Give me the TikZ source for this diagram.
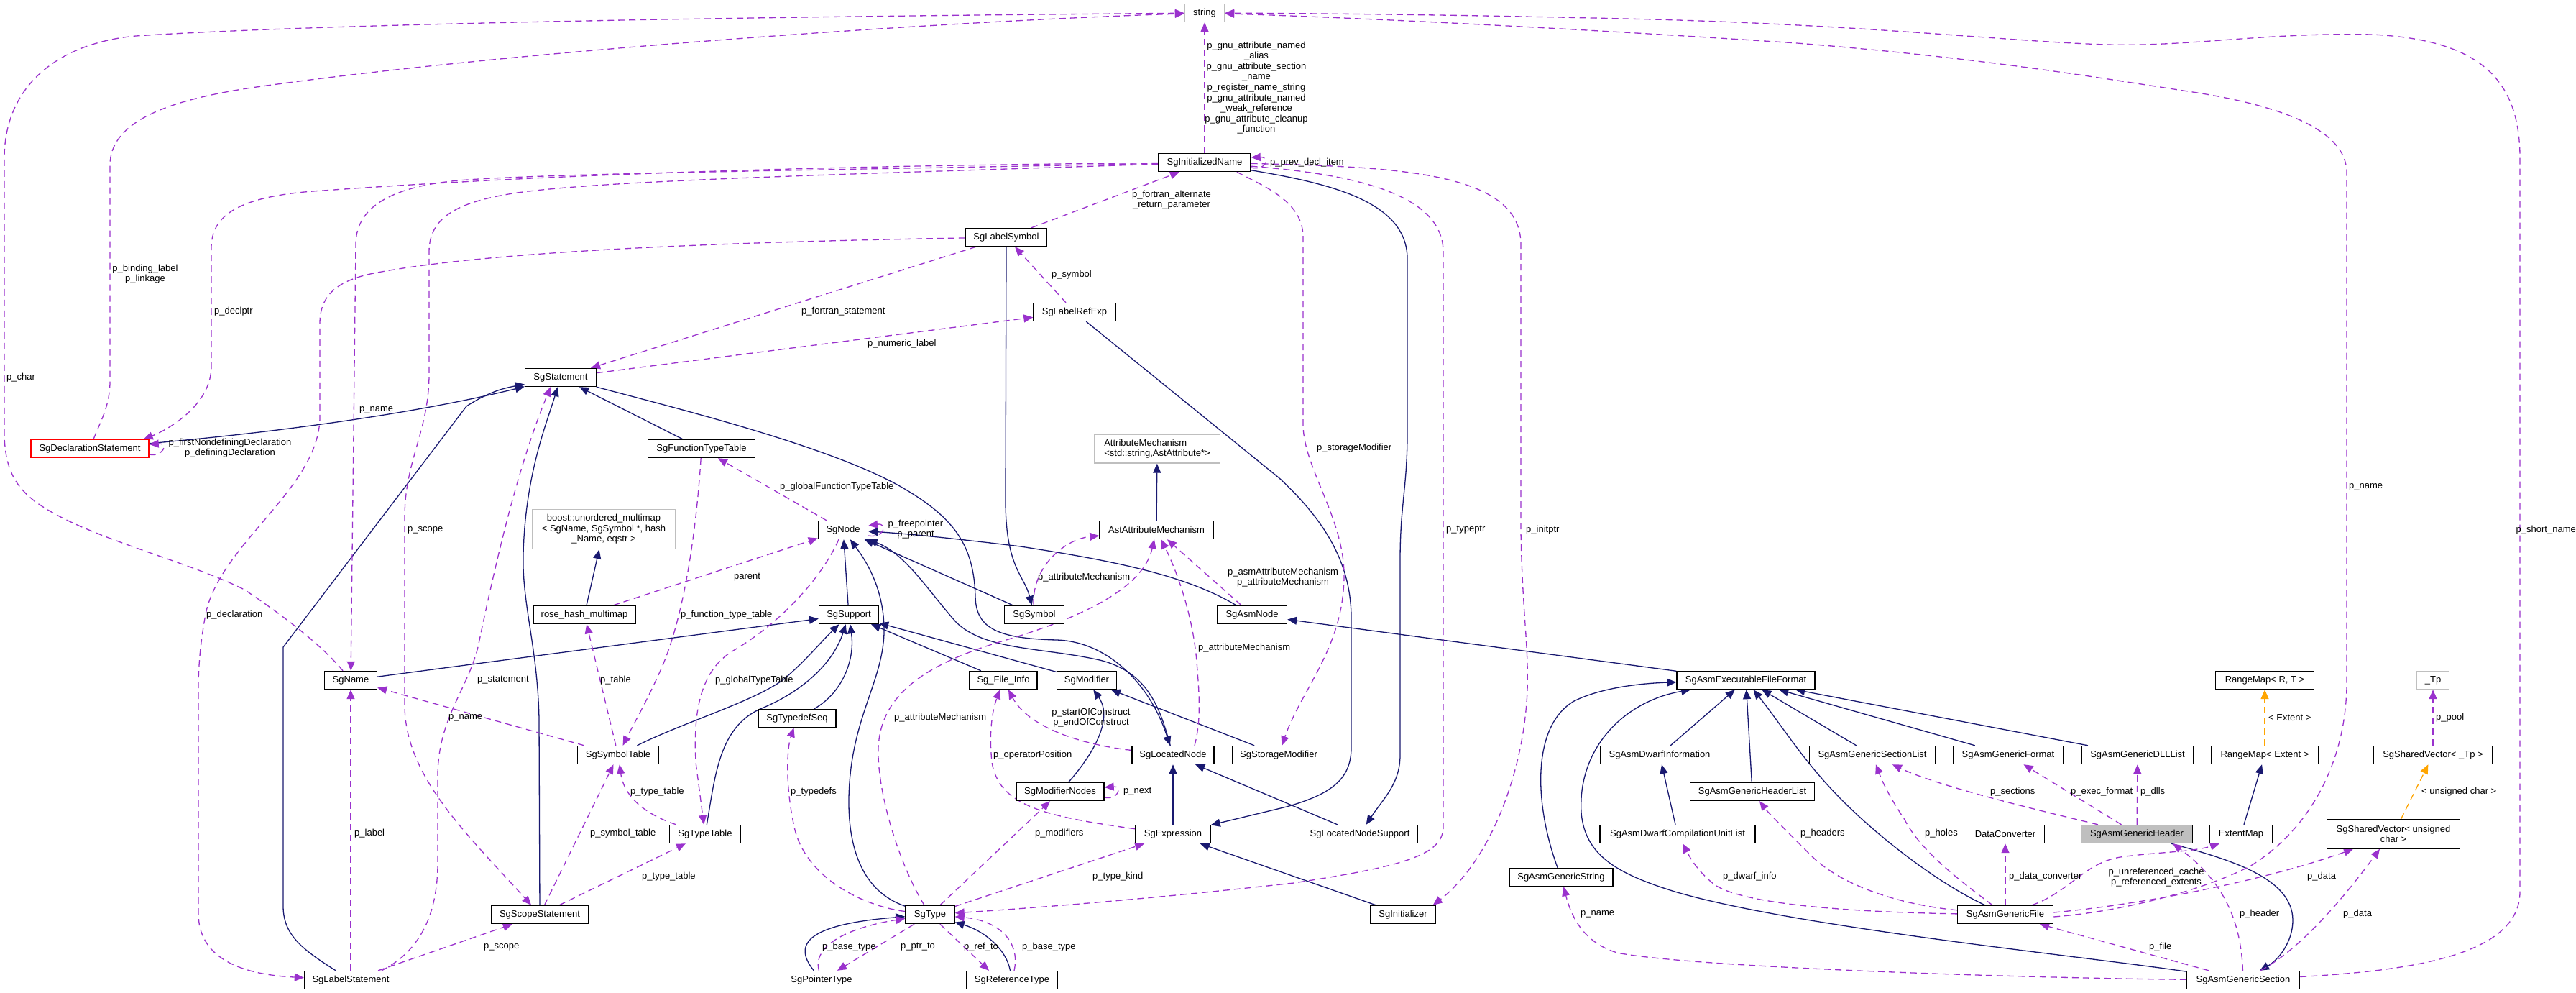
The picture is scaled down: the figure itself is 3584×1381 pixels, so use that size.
\documentclass[tikz,border=0pt]{standalone}
\usepackage{fontspec}
\setmainfont{Liberation Sans}
\usetikzlibrary{arrows.meta}
\pgfdeclarelayer{bg}
\pgfsetlayers{bg,main}
\definecolor{inhcol}{HTML}{191970}
\definecolor{usecol}{HTML}{9A32CD}
\definecolor{tplcol}{HTML}{FFA500}
\definecolor{extcol}{HTML}{BFBFBF}
\newcommand\dxfont{\fontsize{13}{14.6}\selectfont}
\begin{document}
\begin{tikzpicture}[x=1pt,y=-1pt,
 cls/.style={draw=black,line width=1.4pt,fill=white,inner sep=0pt,minimum height=25pt,font=\dxfont,align=center},
 extcls/.style={cls,draw=extcol},
 rootcls/.style={cls,fill=extcol},
 trunccls/.style={cls,draw=red},
 lbl/.style={font=\dxfont,inner sep=0pt,align=center},
 lblw/.style={lbl,anchor=west},
 edgeinh/.style={draw=inhcol,line width=1.3pt,-{Triangle[length=13pt,width=11pt]}},
 edgeuse/.style={draw=usecol,line width=1.3pt,dash pattern=on 9pt off 6pt,-{Triangle[length=13pt,width=11pt]}},
 edgetpl/.style={draw=tplcol,line width=1.3pt,dash pattern=on 9pt off 6pt,-{Triangle[length=13pt,width=11pt]}},
]
\useasboundingbox (0,0) rectangle (3584,1381);
% ---------------- nodes
\node[extcls,minimum width=55pt] (str) at (1676,18) {string};
\node[cls,minimum width=128pt] (InitName) at (1676,226) {SgInitializedName};
\node[cls,minimum width=113pt] (LabelSym) at (1400,330) {SgLabelSymbol};
\node[cls,minimum width=114pt] (LabelRefExp) at (1495,434) {SgLabelRefExp};
\node[cls,minimum width=99pt] (Stmt) at (780,525) {SgStatement};
\node[trunccls,minimum width=164pt] (Decl) at (125,624) {SgDeclarationStatement};
\node[cls,minimum width=149pt] (FuncTT) at (976,624) {SgFunctionTypeTable};
\node[extcls,minimum width=175pt,minimum height=40pt,align=left] (AttrMech) at (1610,624) {AttributeMechanism\\<std::string,AstAttribute*>};
\node[extcls,minimum width=199pt,minimum height=55pt] (boost) at (840,736) {boost::unordered\_multimap\\< SgName, SgSymbol *, hash\\ \_Name, eqstr >};
\node[cls,minimum width=69pt] (SgNode) at (1173,737) {SgNode};
\node[cls,minimum width=158pt] (AstAttr) at (1609,737) {AstAttributeMechanism};
\node[cls,minimum width=142pt] (rose) at (813,855) {rose\_hash\_multimap};
\node[cls,minimum width=83pt] (Support) at (1181,855) {SgSupport};
\node[cls,minimum width=83pt] (Symbol) at (1439,855) {SgSymbol};
\node[cls,minimum width=97pt] (AsmNode) at (1742,855) {SgAsmNode};
\node[cls,minimum width=73pt] (SgName) at (488,946) {SgName};
\node[cls,minimum width=94pt] (FileInfo) at (1396,946) {Sg\_File\_Info};
\node[cls,minimum width=83pt] (Modifier) at (1512,946) {SgModifier};
\node[cls,minimum width=192pt] (AEFF) at (2429,946) {SgAsmExecutableFileFormat};
\node[cls,minimum width=137pt] (RMRT) at (3151,946) {RangeMap< R, T >};
\node[extcls,minimum width=45pt] (Tp) at (3385,946) {\_Tp};
\node[cls,minimum width=108pt] (TypedefSeq) at (1109,999) {SgTypedefSeq};
\node[cls,minimum width=113pt] (SymTab) at (860,1050) {SgSymbolTable};
\node[cls,minimum width=114pt] (LocNode) at (1632,1050) {SgLocatedNode};
\node[cls,minimum width=129pt] (StorMod) at (1779,1050) {SgStorageModifier};
\node[cls,minimum width=165pt] (DwarfInfo) at (2309,1050) {SgAsmDwarfInformation};
\node[cls,minimum width=175pt] (SecList) at (2605,1050) {SgAsmGenericSectionList};
\node[cls,minimum width=153pt] (GFormat) at (2794,1050) {SgAsmGenericFormat};
\node[cls,minimum width=156pt] (DLLList) at (2974,1050) {SgAsmGenericDLLList};
\node[cls,minimum width=149pt] (RMExt) at (3151,1050) {RangeMap< Extent >};
\node[cls,minimum width=165pt] (SVTp) at (3385,1050) {SgSharedVector< \_Tp >};
\node[cls,minimum width=122pt] (ModNodes) at (1475,1101) {SgModifierNodes};
\node[cls,minimum width=173pt] (HdrList) at (2438,1101) {SgAsmGenericHeaderList};
\node[cls,minimum width=99pt] (TypeTab) at (981,1160) {SgTypeTable};
\node[cls,minimum width=104pt] (Expr) at (1632,1160) {SgExpression};
\node[cls,minimum width=161pt] (LNSup) at (1892,1160) {SgLocatedNodeSupport};
\node[cls,minimum width=216pt] (DwarfCUL) at (2334,1160) {SgAsmDwarfCompilationUnitList};
\node[cls,minimum width=109pt] (DataConv) at (2790,1160) {DataConverter};
\node[rootcls,minimum width=155pt] (GHdr) at (2973,1160) {SgAsmGenericHeader};
\node[cls,minimum width=88pt] (ExtMap) at (3118,1160) {ExtentMap};
\node[cls,minimum width=185pt,minimum height=40pt] (SVUC) at (3330,1160) {SgSharedVector< unsigned\\char >};
\node[cls,minimum width=144pt] (GStr) at (2172,1220) {SgAsmGenericString};
\node[cls,minimum width=135pt] (Scope) at (751,1272) {SgScopeStatement};
\node[cls,minimum width=68pt] (SgType) at (1294,1272) {SgType};
\node[cls,minimum width=90pt] (Init) at (1952,1272) {SgInitializer};
\node[cls,minimum width=133pt] (GFile) at (2790,1272) {SgAsmGenericFile};
\node[cls,minimum width=129pt] (LabelStmt) at (488,1363) {SgLabelStatement};
\node[cls,minimum width=107pt] (PtrType) at (1143,1363) {SgPointerType};
\node[cls,minimum width=126pt] (RefType) at (1408,1363) {SgReferenceType};
\node[cls,minimum width=157pt] (GSec) at (3121,1363) {SgAsmGenericSection};
% ---------------- edges
\begin{pgfonlayer}{bg}
\fill[white] (0,0) rectangle (3584,1381);
% inheritance
\draw[edgeinh] (Decl) .. controls (420,598) and (600,570) .. (Stmt);
\draw[edgeinh] (LabelStmt) .. controls (420,1320) and (394,1300) .. (394,1260) -- (394,900) -- (649,565) .. controls (680,545) and (700,540) .. (Stmt);
\draw[edgeinh] (Scope) -- (750,1000) .. controls (748,900) and (726,840) .. (728,770) .. controls (731,660) and (760,590) .. (Stmt);
\draw[edgeinh] (FuncTT) -- (Stmt);
\draw[edgeinh] (Stmt) .. controls (950,570) and (1150,620) .. (1250,675) .. controls (1330,720) and (1355,760) .. (1357,830) .. controls (1358,875) and (1390,888) .. (1470,890) .. controls (1540,892) and (1600,950) .. (LocNode);
\draw[edgeinh] (LocNode) .. controls (1615,990) and (1600,935) .. (1530,918) .. controls (1450,900) and (1370,905) .. (1330,865) .. controls (1290,820) and (1260,770) .. (SgNode);
\draw[edgeinh] (Support) -- (SgNode);
\draw[edgeinh] (SgType) .. controls (1200,1240) and (1180,1180) .. (1181,1110) .. controls (1183,1000) and (1228,950) .. (1230,880) .. controls (1231,820) and (1205,780) .. (SgNode);
\draw[edgeinh] (Symbol) -- (SgNode);
\draw[edgeinh] (AsmNode) .. controls (1650,800) and (1550,780) .. (1420,760) .. controls (1320,748) and (1260,742) .. (SgNode);
\draw[edgeinh] (FileInfo) -- (Support);
\draw[edgeinh] (Modifier) -- (Support);
\draw[edgeinh] (SgName) -- (Support);
\draw[edgeinh] (SymTab) .. controls (950,1005) and (1050,975) .. (1090,945) .. controls (1120,920) and (1140,895) .. (Support);
\draw[edgeinh] (TypeTab) .. controls (995,1080) and (1000,1010) .. (1060,985) .. controls (1120,960) and (1160,920) .. (Support);
\draw[edgeinh] (TypedefSeq) .. controls (1170,965) and (1190,920) .. (Support);
\draw[edgeinh] (LabelSym) -- (1399,700) .. controls (1400,790) and (1425,800) .. (Symbol);
\draw[edgeinh] (LabelRefExp) -- (1780,665) .. controls (1850,730) and (1880,790) .. (1880,860) -- (1880,1040) .. controls (1880,1085) and (1850,1105) .. (1790,1122) -- (Expr);
\draw[edgeinh] (InitName) .. controls (1850,255) and (1958,280) .. (1958,360) -- (1958,600) .. controls (1958,680) and (1948,700) .. (1948,780) -- (1948,1050) .. controls (1948,1090) and (1925,1110) .. (LNSup);
\draw[edgeinh] (Init) -- (Expr);
\draw[edgeinh] (Expr) -- (LocNode);
\draw[edgeinh] (LNSup) -- (LocNode);
\draw[edgeinh] (ModNodes) .. controls (1520,1050) and (1550,1000) .. (Modifier);
\draw[edgeinh] (StorMod) -- (Modifier);
\draw[edgeinh] (AEFF) -- (AsmNode);
\draw[edgeinh] (AstAttr) -- (AttrMech);
\draw[edgeinh] (rose) -- (boost);
\draw[edgeinh] (PtrType) .. controls (1100,1310) and (1130,1285) .. (SgType);
\draw[edgeinh] (RefType) .. controls (1400,1320) and (1370,1295) .. (SgType);
\draw[edgeinh] (GStr) .. controls (2135,1120) and (2130,1010) .. (2190,975) .. controls (2230,955) and (2290,950) .. (AEFF);
\draw[edgeinh] (GSec) .. controls (2900,1330) and (2500,1290) .. (2330,1240) .. controls (2250,1215) and (2205,1190) .. (2200,1130) .. controls (2195,1040) and (2260,975) .. (AEFF);
\draw[edgeinh] (DwarfInfo) -- (AEFF);
\draw[edgeinh] (HdrList) -- (AEFF);
\draw[edgeinh] (GFile) .. controls (2700,1230) and (2620,1170) .. (2563,1113) .. controls (2510,1060) and (2480,1010) .. (AEFF);
\draw[edgeinh] (SecList) -- (AEFF);
\draw[edgeinh] (GFormat) -- (AEFF);
\draw[edgeinh] (DLLList) -- (AEFF);
\draw[edgeinh] (DwarfCUL) -- (DwarfInfo);
\draw[edgeinh] (ExtMap) -- (RMExt);
\draw[edgeinh] (GHdr) .. controls (3100,1195) and (3190,1220) .. (3190,1280) .. controls (3190,1310) and (3170,1335) .. (GSec);
% template
\draw[edgetpl] (RMExt) -- (RMRT);
\draw[edgetpl] (SVUC) -- (SVTp);
% usage
\draw[edgeuse] (InitName) -- (str);
\draw[edgeuse] (SgName) .. controls (450,900) and (400,860) .. (340,820) .. controls (260,780) and (130,750) .. (60,705) .. controls (20,680) and (6,650) .. (6,600) -- (6,220) .. controls (6,120) and (80,60) .. (189,50) .. controls (500,30) and (1200,22) .. (str);
\draw[edgeuse] (Decl) .. controls (140,585) and (153,565) .. (153,530) -- (153,230) .. controls (153,170) and (230,140) .. (350,122) .. controls (700,72) and (1300,30) .. (str);
\draw[edgeuse] (InitName) .. controls (1200,230) and (800,240) .. (450,265) .. controls (330,272) and (294,300) .. (294,345) -- (294,510) .. controls (294,560) and (240,595) .. ([xshift=-8pt]Decl.north east);
\draw[edgeuse] ([yshift=-8pt]Decl.east) .. controls (226,636) and (236,616) .. ([yshift=6pt]Decl.east);
\draw[edgeuse] (LabelSym) .. controls (1100,335) and (700,345) .. (520,380) .. controls (470,390) and (445,410) .. (445,450) -- (445,580) .. controls (445,680) and (300,760) .. (285,860) .. controls (278,900) and (276,930) .. (276,960) -- (276,1270) .. controls (276,1330) and (330,1355) .. (LabelStmt);
\draw[edgeuse] (InitName) .. controls (1200,236) and (800,240) .. (650,250) .. controls (540,258) and (495,290) .. (495,340) -- (SgName);
\draw[edgeuse] (InitName) .. controls (1200,242) and (850,250) .. (720,268) .. controls (640,280) and (597,300) .. (597,350) -- (597,520) .. controls (597,600) and (563,640) .. (563,720) -- (563,980) .. controls (563,1080) and (650,1160) .. (Scope);
\draw[edgeuse] ([xshift=43pt]LabelStmt.north) .. controls (570,1330) and (609,1290) .. (609,1200) -- (609,1080) .. controls (609,1000) and (650,960) .. (665,900) .. controls (690,780) and (720,650) .. ([xshift=-14pt]Stmt.south);
\draw[edgeuse] (LabelSym) -- (Stmt);
\draw[edgeuse] (Stmt) -- (LabelRefExp);
\draw[edgeuse] ([yshift=-7pt]InitName.east) .. controls (1762,238) and (1768,218) .. ([yshift=7pt]InitName.east);
\draw[edgeuse] (LabelSym) -- (InitName);
\draw[edgeuse] ([xshift=45pt]InitName.south) .. controls (1760,260) and (1813,280) .. (1813,330) -- (1813,590) .. controls (1813,650) and (1870,720) .. (1870,800) .. controls (1870,900) and (1810,960) .. (StorMod);
\draw[edgeuse] (InitName) .. controls (1850,240) and (2008,260) .. (2008,350) -- (2008,1150) .. controls (2008,1190) and (1950,1205) .. (1800,1228) .. controls (1600,1250) and (1450,1262) .. (SgType);
\draw[edgeuse] (InitName) .. controls (1950,232) and (2116,240) .. (2116,340) -- (2116,740) .. controls (2118,850) and (2127,900) .. (2125,960) .. controls (2120,1080) and (2070,1200) .. ([xshift=-4pt]Init.north east);
\draw[edgeuse] (LabelRefExp) -- (LabelSym);
\draw[edgeuse] (SgNode) -- (FuncTT);
\draw[edgeuse] ([yshift=-8pt]SgNode.east) .. controls (1230,749) and (1236,727) .. ([yshift=6pt]SgNode.east);
\draw[edgeuse] (rose) -- (SgNode);
\draw[edgeuse] (SymTab) -- (rose);
\draw[edgeuse] (FuncTT) .. controls (970,720) and (955,850) .. (920,930) .. controls (900,975) and (880,1010) .. (SymTab);
\draw[edgeuse] (SgNode) .. controls (1140,810) and (1080,870) .. (1020,905) .. controls (970,935) and (965,1000) .. (968,1060) -- (TypeTab);
\draw[edgeuse] (TypeTab) .. controls (920,1140) and (870,1120) .. (SymTab);
\draw[edgeuse] (Scope) -- (SymTab);
\draw[edgeuse] (Scope) -- (TypeTab);
\draw[edgeuse] (LabelStmt) -- (Scope);
\draw[edgeuse] (LabelStmt) -- (SgName);
\draw[edgeuse] (SymTab) -- (SgName);
\draw[edgeuse] (Symbol) .. controls (1435,790) and (1480,750) .. (AstAttr);
\draw[edgeuse] (AsmNode) -- (AstAttr);
\draw[edgeuse] (SgType) .. controls (1250,1200) and (1220,1100) .. (1222,1040) .. controls (1225,970) and (1280,925) .. (1400,890) .. controls (1500,860) and (1590,820) .. (AstAttr);
\draw[edgeuse] ([xshift=30pt]LocNode.north) .. controls (1672,1000) and (1668,960) .. (1665,920) .. controls (1660,860) and (1640,800) .. (AstAttr);
\draw[edgeuse] (LocNode) .. controls (1500,1035) and (1430,1010) .. (FileInfo);
\draw[edgeuse] (Expr) .. controls (1450,1135) and (1390,1120) .. (1380,1060) .. controls (1376,1020) and (1380,990) .. (FileInfo);
\draw[edgeuse] ([yshift=-8pt]ModNodes.east) .. controls (1556,1113) and (1562,1093) .. ([yshift=6pt]ModNodes.east);
\draw[edgeuse] (SgType) -- (ModNodes);
\draw[edgeuse] (SgType) .. controls (1200,1260) and (1120,1220) .. (1105,1150) .. controls (1092,1090) and (1095,1040) .. (TypedefSeq);
\draw[edgeuse] (SgType) -- (Expr);
\draw[edgeuse] (PtrType) .. controls (1130,1315) and (1180,1290) .. (SgType);
\draw[edgeuse] (SgType) -- (PtrType);
\draw[edgeuse] (SgType) -- ([xshift=-32pt]RefType.north);
\draw[edgeuse] (RefType) .. controls (1420,1310) and (1390,1280) .. (SgType);
\draw[edgeuse] (GHdr) .. controls (2850,1130) and (2700,1095) .. (SecList);
\draw[edgeuse] (GHdr) -- (GFormat);
\draw[edgeuse] (GHdr) -- (DLLList);
\draw[edgeuse] (GFile) -- (DataConv);
\draw[edgeuse] (GSec) -- (GFile);
\draw[edgeuse] (GSec) .. controls (3118,1290) and (3100,1230) .. ([xshift=50pt]GHdr.south);
\draw[edgeuse] (GSec) .. controls (3200,1320) and (3260,1250) .. ([xshift=-19pt]SVUC.south);
\draw[edgeuse] (GSec) .. controls (3350,1350) and (3506,1330) .. (3506,1240) -- (3506,220) .. controls (3506,110) and (3450,55) .. (3300,48) .. controls (3150,45) and (3050,65) .. (2930,62) .. controls (2800,58) and (2600,35) .. (2300,27) .. controls (2100,22) and (1900,19) .. (str);
\draw[edgeuse] ([yshift=-3pt]GFile.east) .. controls (2950,1268) and (3060,1240) .. (3130,1205) .. controls (3220,1150) and (3265,1050) .. (3265,950) -- (3265,240) .. controls (3265,190) and (3200,150) .. (3044,127) .. controls (2900,105) and (2750,80) .. (2500,60) .. controls (2200,40) and (1900,25) .. (str);
\draw[edgeuse] ([yshift=3pt]GFile.east) .. controls (2980,1258) and (3150,1225) .. ([xshift=-56pt]SVUC.south);
\draw[edgeuse] (GFile) .. controls (2880,1240) and (2900,1200) .. (2950,1192) .. controls (3000,1185) and (3050,1185) .. ([xshift=-30pt]ExtMap.south);
\draw[edgeuse] (GFile) .. controls (2720,1220) and (2670,1180) .. (2650,1140) .. controls (2630,1110) and (2620,1090) .. (SecList);
\draw[edgeuse] (GFile) .. controls (2640,1258) and (2560,1230) .. (2520,1190) .. controls (2480,1150) and (2460,1130) .. (HdrList);
\draw[edgeuse] (GFile) .. controls (2550,1268) and (2420,1255) .. (2385,1230) .. controls (2360,1210) and (2350,1190) .. (DwarfCUL);
\draw[edgeuse] (GSec) .. controls (2800,1360) and (2350,1345) .. (2250,1325) .. controls (2200,1310) and (2185,1270) .. (GStr);
\draw[edgeuse] (SVTp) -- (Tp);
\end{pgfonlayer}
% ---------------- labels
\node[lbl] (l1) at (1748,122) {p\_gnu\_attribute\_named\\\_alias\\p\_gnu\_attribute\_section\\\_name\\p\_register\_name\_string\\p\_gnu\_attribute\_named\\\_weak\_reference\\p\_gnu\_attribute\_cleanup\\\_function};
\node[lblw] (l2) at (9,525) {p\_char};
\node[lbl] (l3) at (202,381) {p\_binding\_label\\p\_linkage};
\node[lblw] (l4) at (298,433) {p\_declptr};
\node[lbl] (l5) at (320,623) {p\_firstNondefiningDeclaration\\p\_definingDeclaration};
\node[lblw] (l6) at (500,570) {p\_name};
\node[lblw] (l7) at (567,737) {p\_scope};
\node[lblw] (l8) at (287,855) {p\_declaration};
\node[lblw] (l9) at (664,946) {p\_statement};
\node[lblw] (l10) at (624,998) {p\_name};
\node[lblw] (l11) at (493,1159) {p\_label};
\node[lblw] (l12) at (673,1317) {p\_scope};
\node[lblw] (l13) at (835,946) {p\_table};
\node[lblw] (l14) at (821,1159) {p\_symbol\_table};
\node[lblw] (l15) at (877,1101) {p\_type\_table};
\node[lblw] (l16) at (893,1219) {p\_type\_table};
\node[lblw] (l17) at (947,855) {p\_function\_type\_table};
\node[lblw] (l18) at (1021,803) {parent};
\node[lblw] (l19) at (1085,677) {p\_globalFunctionTypeTable};
\node[lblw] (l20) at (995,946) {p\_globalTypeTable};
\node[lbl] (l21) at (1274,736) {p\_freepointer\\p\_parent};
\node[lblw] (l22) at (1207,478) {p\_numeric\_label};
\node[lblw] (l23) at (1115,433) {p\_fortran\_statement};
\node[lblw] (l24) at (1463,382) {p\_symbol};
\node[lbl] (l25) at (1630,278) {p\_fortran\_alternate\\\_return\_parameter};
\node[lblw] (l26) at (1767,226) {p\_prev\_decl\_item};
\node[lblw] (l27) at (1832,623) {p\_storageModifier};
\node[lblw] (l28) at (2012,737) {p\_typeptr};
\node[lblw] (l29) at (2123,737) {p\_initptr};
\node[lblw] (l30) at (1444,803) {p\_attributeMechanism};
\node[lbl] (l31) at (1785,803) {p\_asmAttributeMechanism\\p\_attributeMechanism};
\node[lblw] (l32) at (1244,998) {p\_attributeMechanism};
\node[lblw] (l33) at (1667,901) {p\_attributeMechanism};
\node[lbl] (l34) at (1518,998) {p\_startOfConstruct\\p\_endOfConstruct};
\node[lblw] (l35) at (1382,1050) {p\_operatorPosition};
\node[lblw] (l36) at (1563,1101) {p\_next};
\node[lblw] (l37) at (1440,1159) {p\_modifiers};
\node[lblw] (l38) at (1100,1101) {p\_typedefs};
\node[lblw] (l39) at (1520,1219) {p\_type\_kind};
\node[lblw] (l40) at (1144,1317) {p\_base\_type};
\node[lblw] (l41) at (1253,1317) {p\_ptr\_to};
\node[lblw] (l42) at (1341,1317) {p\_ref\_to};
\node[lblw] (l43) at (1422,1317) {p\_base\_type};
\node[lblw] (l44) at (2769,1101) {p\_sections};
\node[lblw] (l45) at (2881,1101) {p\_exec\_format};
\node[lblw] (l46) at (2978,1101) {p\_dlls};
\node[lblw] (l47) at (3156,998) {< Extent >};
\node[lblw] (l48) at (3389,998) {p\_pool};
\node[lblw] (l49) at (3369,1101) {< unsigned char >};
\node[lblw] (l50) at (2678,1159) {p\_holes};
\node[lblw] (l51) at (2505,1159) {p\_headers};
\node[lblw] (l52) at (2397,1219) {p\_dwarf\_info};
\node[lblw] (l53) at (2795,1219) {p\_data\_converter};
\node[lbl] (l54) at (3000,1220) {p\_unreferenced\_cache\\p\_referenced\_extents};
\node[lblw] (l55) at (3210,1219) {p\_data};
\node[lblw] (l56) at (3268,677) {p\_name};
\node[lbl,anchor=east] (l57) at (3584,737) {p\_short\_name};
\node[lblw] (l58) at (3116,1271) {p\_header};
\node[lblw] (l59) at (3260,1271) {p\_data};
\node[lblw] (l60) at (2990,1317) {p\_file};
\node[lblw] (l61) at (2199,1271) {p\_name};
\end{tikzpicture}
\end{document}
